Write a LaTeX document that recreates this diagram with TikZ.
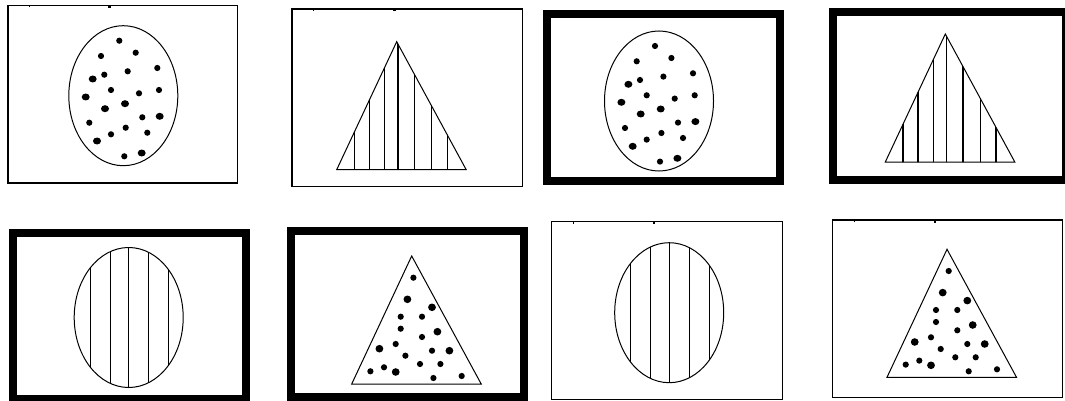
\documentclass[tikz,border=0pt]{standalone}
\begin{document}
\begin{tikzpicture}[x=1pt,y=-1pt]
\tikzset{
  thinframe/.style={draw=black,line width=1.4pt},
  thickframe/.style={draw=black,line width=8pt},
  outline/.style={draw=black,line width=1pt},
  stripe/.style={draw=black,line width=1.3pt},
  smalldot/.style={fill=black},
  tickmark/.style={fill=black},
  dotoval/.pic={
    \draw[outline] (0,0) ellipse [x radius=54.5, y radius=70];
    \foreach \dx/\dy in {-4/-55,-22.3/-39.7,12.4/-43,34/-27.7,4.4/-24.4,-19/-21,-12.3/-5.7,15.7/-2.4,35.7/-5.7,19/21.6,-34/27,2.4/32,-12.3/38.6,24/37,1/60.6}
      \fill[smalldot] (\dx,\dy) circle [radius=3.1];
    \foreach \dx/\dy in {-30.6/-16.7,-37.6/1.3,1.7/8,-18.3/13,36.4/20.6,-26.3/45.3,18.4/57.3}
      \fill[smalldot] (\dx,\dy) ellipse [x radius=4, y radius=3.5];
  },
  stripeoval/.pic={
    \begin{scope}
      \clip (0,0) ellipse [x radius=54.5, y radius=70];
      \foreach \dx in {-38.5,-18.5,0,20,40}
        \draw[stripe] (\dx,-75) -- (\dx,75);
    \end{scope}
    \draw[outline] (0,0) ellipse [x radius=54.5, y radius=70];
  },
  stripetri/.pic={
    \begin{scope}
      \clip (0,0) -- (-60,128) -- (69.5,128) -- cycle;
      \foreach \dx in {-42.2,-27.2,-12,1.2,17.8,35,50.8}
        \draw[stripe] (\dx,-5) -- (\dx,135);
    \end{scope}
    \draw[outline] (0,0) -- (-60,128) -- (69.5,128) -- cycle;
  },
  dottri/.pic={
    \draw[outline] (0,0) -- (-60,128) -- (69.5,128) -- cycle;
    \foreach \dx/\dy in {1.7/21.7,-11/60.7,10.3/60.7,-11/72.7,10.3/81,-16/88,20.3/94.7,-6.3/99.7,8.3/108,28.7/108,-41.3/115.3,-27.7/111.3,21.7/122,50/120}
      \fill[smalldot] (\dx,\dy) circle [radius=3.1];
    \foreach \dx/\dy in {-4.3/43.3,20.3/51.3,25.7/75.7,-32.3/92.7,37.7/94.7,-16/116}
      \fill[smalldot] (\dx,\dy) ellipse [x radius=3.9, y radius=3.8];
  }
}
\useasboundingbox (0,0) rectangle (1065,401);
\clip (0,0) rectangle (1065,401);
\fill[white] (0,0) rectangle (1065,401);

% top row
\draw[thinframe] (8,5.3) rectangle (237.7,183);
\fill[tickmark] (28.5,5.5) rectangle (30,7.5);
\fill[tickmark] (108,5.5) rectangle (110.5,7.8);
\pic at (123.3,95.7) {dotoval};

\draw[thinframe] (292,9) rectangle (522.3,186.3);
\fill[tickmark] (312.5,9.2) rectangle (314,11.2);
\fill[tickmark] (393,9.2) rectangle (395.5,11.5);
\pic at (396.7,41.7) {stripetri};

\draw[thickframe] (547,14) rectangle (780,181);
\pic at (659,101) {dotoval};

\draw[thickframe] (832.5,12.5) rectangle (1065.7,180);
\pic at (945.3,34) {stripetri};

% bottom row
\draw[thickframe] (12.5,232.5) rectangle (245.8,399);
\pic at (128.7,317.5) {stripeoval};

\draw[thickframe] (290.8,230.5) rectangle (524.2,397.3);
\pic at (411.7,256) {dottri};

\draw[thinframe] (551.7,221.7) rectangle (782.3,399.6);
\fill[tickmark] (572.8,222) rectangle (574.3,224);
\fill[tickmark] (652.5,222) rectangle (655,224.3);
\pic at (669.2,312.7) {stripeoval};

\draw[thinframe] (832.7,220) rectangle (1062.3,397.7);
\fill[tickmark] (853.8,220.3) rectangle (855.3,222.3);
\fill[tickmark] (933.5,220.3) rectangle (936,222.6);
\pic at (947,249.3) {dottri};
\end{tikzpicture}
\end{document}
